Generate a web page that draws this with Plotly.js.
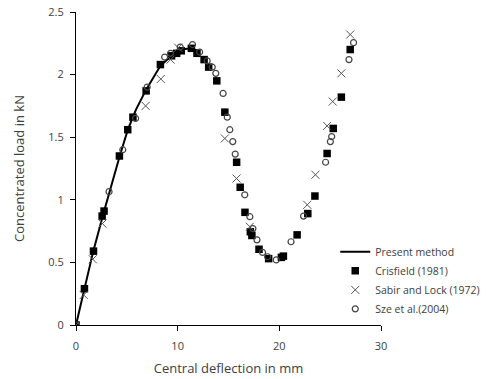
<!DOCTYPE html>
<html>
<head>
<meta charset="utf-8">
<script src="https://cdn.plot.ly/plotly-3.0.1.min.js"></script>
<style>html,body{margin:0;padding:0;background:#fff;}#chart{width:497px;height:379px;}</style>
</head>
<body>
<div id="chart"></div>
<script>
// Present method (solid line)
const presentX = [0, 0.8, 1.7, 2.7, 3.4, 4.3, 5.1, 5.9, 6.9, 8.3, 9.4, 10.4, 11.3, 12.0];
const presentY = [0, 0.28, 0.59, 0.89, 1.10, 1.35, 1.56, 1.72, 1.88, 2.07, 2.15, 2.20, 2.21, 2.19];

// Crisfield (1981)
const crisX = [0, 0.83, 1.72, 2.57, 2.76, 4.27, 5.09, 5.6, 6.9, 8.3, 9.4, 9.9, 10.35, 11.35, 11.9, 12.6, 13.05, 13.85, 14.64, 15.8, 16.15, 16.62, 17.15, 17.3, 18.0, 18.95, 20.2, 20.4, 21.75, 22.8, 23.5, 24.7, 25.3, 26.1, 26.97];
const crisY = [0, 0.29, 0.59, 0.87, 0.91, 1.35, 1.56, 1.66, 1.87, 2.08, 2.15, 2.17, 2.19, 2.21, 2.17, 2.12, 2.06, 1.95, 1.70, 1.30, 1.10, 0.90, 0.745, 0.715, 0.605, 0.53, 0.54, 0.55, 0.72, 0.89, 1.03, 1.37, 1.57, 1.82, 2.20];

// Sabir and Lock (1972)
const sabirX = [0, 0.76, 1.65, 2.6, 6.85, 8.34, 9.3, 10.05, 14.64, 15.79, 17.1, 22.75, 23.55, 24.7, 25.25, 26.1, 26.97];
const sabirY = [0, 0.24, 0.525, 0.81, 1.75, 1.965, 2.12, 2.215, 1.49, 1.17, 0.785, 0.96, 1.20, 1.59, 1.785, 2.01, 2.32];

// Sze et al.(2004)
const szeX = [0, 3.25, 4.6, 5.86, 7.0, 8.72, 9.3, 10.25, 11.46, 12.16, 12.9, 13.4, 13.75, 14.47, 14.88, 15.13, 15.42, 15.66, 16.6, 17.1, 17.4, 17.8, 18.35, 18.85, 19.7, 21.15, 22.38, 24.55, 25.02, 25.15, 26.85, 27.3];
const szeY = [0, 1.065, 1.40, 1.65, 1.90, 2.14, 2.17, 2.22, 2.24, 2.18, 2.11, 2.06, 2.01, 1.85, 1.66, 1.56, 1.465, 1.365, 1.04, 0.865, 0.77, 0.68, 0.58, 0.545, 0.52, 0.665, 0.87, 1.30, 1.465, 1.505, 2.12, 2.255];

const names = ["Present method", "Crisfield (1981)", "Sabir and Lock (1972)", "Sze et al.(2004)"];
const xTicks = [0, 10, 20, 30];
const yTicks = [0, 0.5, 1, 1.5, 2, 2.5];

const FONT = "Open Sans, Liberation Sans, sans-serif";
const TXT = "#404040";

const traces = [
  {x: presentX, y: presentY, name: names[0], type: "scatter", mode: "lines",
   line: {color: "#000", width: 2}},
  {x: crisX, y: crisY, name: names[1], type: "scatter", mode: "markers",
   marker: {symbol: "square", size: 7.5, color: "#000", line: {width: 0}}},
  {x: sabirX, y: sabirY, name: names[2], type: "scatter", mode: "markers",
   marker: {symbol: "x-thin", size: 8, color: "#555", line: {color: "#555", width: 1}}},
  {x: szeX, y: szeY, name: names[3], type: "scatter", mode: "markers",
   marker: {symbol: "circle-open", size: 6, color: "#444", line: {color: "#444", width: 1.2}}}
];

const layout = {
  width: 497, height: 379,
  margin: {l: 76, r: 106, t: 12, b: 54},
  paper_bgcolor: "#fff", plot_bgcolor: "#fff",
  font: {family: FONT, size: 11, color: TXT},
  showlegend: true,
  legend: {x: 0.85, y: 0.28, xanchor: "left", yanchor: "top",
    bgcolor: "rgba(0,0,0,0)", font: {family: FONT, size: 10.5, color: TXT},
    tracegroupgap: 0, itemwidth: 30},
  xaxis: {range: [0, 30], tickvals: xTicks, ticktext: xTicks.map(String),
    showgrid: false, zeroline: false, showline: true, linecolor: "#000", linewidth: 1,
    ticks: "outside", ticklen: 5, tickcolor: "#000", mirror: false,
    tickfont: {size: 11, color: TXT}, ticklabelstandoff: 6,
    title: {text: "Central deflection in mm", font: {size: 13, color: TXT}, standoff: 11}},
  yaxis: {range: [0, 2.5], tickvals: yTicks, ticktext: yTicks.map(String),
    showgrid: false, zeroline: false, showline: true, linecolor: "#000", linewidth: 1,
    ticks: "outside", ticklen: 5, tickcolor: "#000",
    tickfont: {size: 11, color: TXT}, ticklabelstandoff: 4,
    title: {text: "Concentrated load in kN", font: {size: 13, color: TXT}, standoff: 20}}
};

Plotly.newPlot("chart", traces, layout, {displayModeBar: false, staticPlot: true});
</script>
</body>
</html>
